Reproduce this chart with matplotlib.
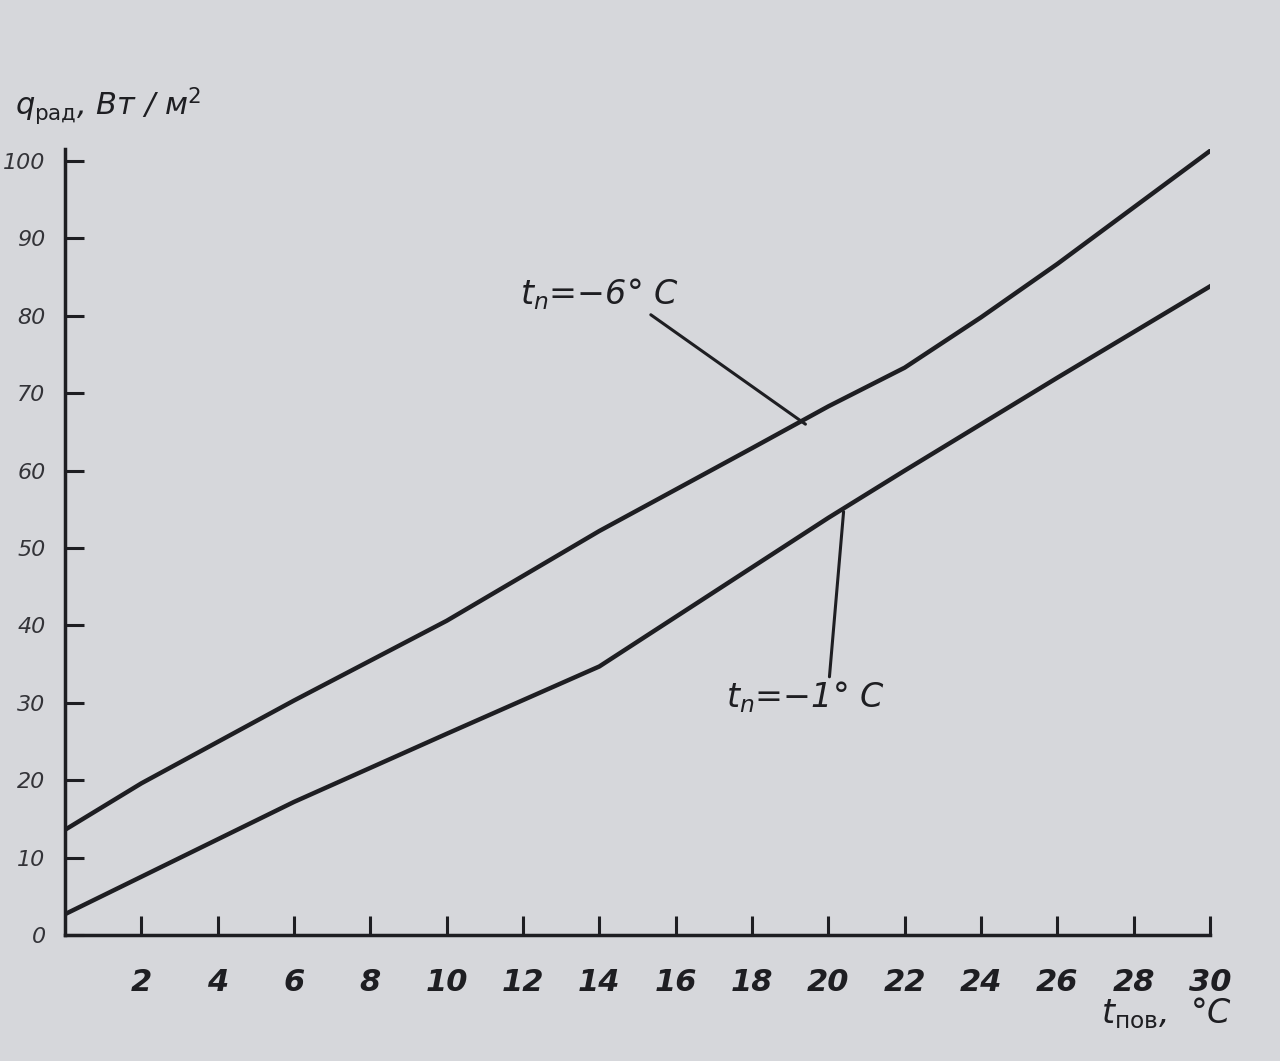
import matplotlib
matplotlib.use('Agg')
import matplotlib.pyplot as plt

# t_пов, °C
t_pov = [0, 2, 6, 10, 14, 18, 20, 22, 24, 26, 30]
# q_рад at t_n = -6 °C
q_m6 = [13.6, 19.6, 30.3, 40.6, 52.2, 62.9, 68.3, 73.3, 79.8, 86.7, 101.3]

t_pov2 = [0, 6, 10, 14, 20, 22, 24, 26, 30]
# q_рад at t_n = -1 °C
q_m1 = [2.7, 17.2, 26.0, 34.7, 53.9, 60.0, 66.0, 72.0, 83.8]

xticks = list(range(2, 31, 2))
yticks = list(range(0, 101, 10))

bg = '#d6d7db'
ink = '#1e1e22'
plt.rcParams['font.family'] = ['DejaVu Sans']

fig = plt.figure(figsize=(12.8, 10.61), dpi=100, facecolor=bg)
ax = fig.add_axes([0.0508, 0.1187, 0.8945, 0.7405], facecolor=bg)

ax.plot(t_pov, q_m6, color=ink, lw=3.2, solid_joinstyle='round')
ax.plot(t_pov2, q_m1, color=ink, lw=3.2, solid_joinstyle='round')

ax.set_xlim(0, 30)
ax.set_ylim(0, 101.5)
for s in ['top', 'right']:
    ax.spines[s].set_visible(False)
for s in ['left', 'bottom']:
    ax.spines[s].set_linewidth(2.5)
    ax.spines[s].set_color(ink)

ax.set_xticks(xticks)
ax.set_yticks(yticks)
ax.tick_params(axis='both', direction='in', length=14, width=2.2, color=ink)
ax.tick_params(axis='x', pad=24, labelsize=22)
ax.tick_params(axis='y', pad=14, labelsize=16)
for lab in ax.get_xticklabels():
    lab.set_fontstyle('italic')
    lab.set_fontweight('bold')
    lab.set_color(ink)
for lab in ax.get_yticklabels():
    lab.set_fontstyle('italic')
    lab.set_color('#333338')

fig.text(0.012, 0.88, r'$q_{\mathrm{рад}}$, Вт / м$^2$', fontsize=22,
         style='italic', color=ink, ha='left', va='bottom')
fig.text(0.86, 0.045, r'$t_{\mathrm{пов}}$,  °C', fontsize=24,
         style='italic', color=ink, ha='left', va='center')

ax.annotate(r'$t_n$=−6° C', xy=(19.4, 66.0), xytext=(14.0, 82.8),
            fontsize=24, style='italic', color=ink, ha='center', va='center',
            arrowprops=dict(arrowstyle='-', color=ink, lw=2.2,
                            shrinkA=0, shrinkB=0,
                            relpos=(0.8, 0.0)))
ax.annotate(r'$t_n$=−1° C', xy=(20.4, 54.7), xytext=(19.4, 30.7),
            fontsize=24, style='italic', color=ink, ha='center', va='center',
            arrowprops=dict(arrowstyle='-', color=ink, lw=2.2,
                            shrinkA=0, shrinkB=0,
                            relpos=(0.65, 1.0)))

fig.savefig('out.png', dpi=100, facecolor=bg)
